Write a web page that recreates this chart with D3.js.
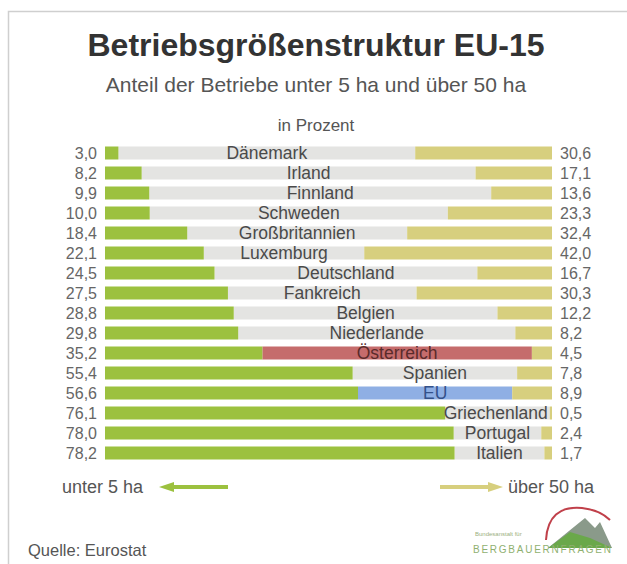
<!DOCTYPE html>
<html><head><meta charset="utf-8">
<script src="https://cdn.jsdelivr.net/npm/d3@7"></script>
<style>
html,body{margin:0;padding:0;background:#fff;}
svg{display:block;font-family:"Liberation Sans",Arial,Helvetica,sans-serif;}
</style></head>
<body>
<svg id="chart" width="627" height="564"></svg>
<script>
const countries = ["Dänemark","Irland","Finnland","Schweden","Großbritannien","Luxemburg","Deutschland","Fankreich","Belgien","Niederlande","Österreich","Spanien","EU","Griechenland","Portugal","Italien"];
const under5 = [3.0,8.2,9.9,10.0,18.4,22.1,24.5,27.5,28.8,29.8,35.2,55.4,56.6,76.1,78.0,78.2];
const over50 = [30.6,17.1,13.6,23.3,32.4,42.0,16.7,30.3,12.2,8.2,4.5,7.8,8.9,0.5,2.4,1.7];
const highlight = {"Österreich":"at","EU":"eu"};

const title = "Betriebsgrößenstruktur EU-15";
const subtitle = "Anteil der Betriebe unter 5 ha und über 50 ha";
const unitLabel = "in Prozent";
const legendLeft = "unter 5 ha";
const legendRight = "über 50 ha";
const source = "Quelle: Eurostat";

const rows = countries.map((c,i)=>({c, u:under5[i], o:over50[i]}));
const svg = d3.select("#chart");

const colGreen = "#9cc13f", colYellow = "#d7cf7e", colGray = "#e4e4e2",
      colRed = "#c56c6c", colBlue = "#8fafe4";

// frame
svg.append("path").attr("d","M8.5,564 V11.5 H627").attr("fill","none").attr("stroke","#cfcfcf").attr("stroke-width",1.5);

const x = d3.scaleLinear().domain([0,100]).range([105,552]);
const y = d3.scaleBand().domain(countries).range([143,463]).paddingInner(0.35).paddingOuter(0.175);

svg.append("text").attr("x",316).attr("y",56).attr("text-anchor","middle")
  .attr("font-size",32).attr("font-weight","bold").attr("fill","#333").text(title);
svg.append("text").attr("x",316).attr("y",92).attr("text-anchor","middle")
  .attr("font-size",21).attr("fill","#555").text(subtitle);
svg.append("text").attr("x",316).attr("y",131).attr("text-anchor","middle")
  .attr("font-size",17).attr("fill","#555").text(unitLabel);

const g = svg.append("g");
const row = g.selectAll("g.row").data(rows).join("g").attr("class","row")
  .attr("transform",d=>`translate(0,${y(d.c)})`);
const bh = y.bandwidth();

row.append("rect").attr("x",d=>x(d.u)).attr("width",d=>x(100-d.o)-x(d.u)).attr("height",bh)
  .attr("fill",d=>highlight[d.c]==="at"?colRed:highlight[d.c]==="eu"?colBlue:colGray);
row.append("rect").attr("x",x(0)).attr("width",d=>x(d.u)-x(0)).attr("height",bh).attr("fill",colGreen);
row.append("rect").attr("x",d=>x(100-d.o)).attr("width",d=>x(100)-x(100-d.o)).attr("height",bh).attr("fill",colYellow);

const fmt = v => v.toFixed(1).replace(".",",");
row.append("text").attr("x",97).attr("y",bh/2).attr("dy","0.36em").attr("text-anchor","end")
  .attr("font-size",16).attr("fill","#666").text(d=>fmt(d.u));
row.append("text").attr("x",560).attr("y",bh/2).attr("dy","0.36em").attr("text-anchor","start")
  .attr("font-size",16).attr("fill","#666").text(d=>fmt(d.o));

const lab = row.append("text").attr("y",bh/2).attr("dy","0.36em").attr("text-anchor","middle")
  .attr("font-size",17.5).attr("fill",d=>highlight[d.c]==="at"?"#5a2b2b":highlight[d.c]==="eu"?"#34518a":"#4a4a4a")
  .text(d=>d.c);
lab.each(function(d){
  const w = this.getComputedTextLength();
  const a = x(d.u), b = x(100-d.o);
  let cx = (a+b)/2;
  if (cx + w/2 > b - 2) cx = b - 2 - w/2;
  d3.select(this).attr("x",cx);
});

// legend
const ly = 487;
svg.append("text").attr("x",62).attr("y",ly).attr("dy","0.36em").attr("font-size",18).attr("fill","#555").text(legendLeft);
svg.append("text").attr("x",508).attr("y",ly).attr("dy","0.36em").attr("font-size",18).attr("fill","#555").text(legendRight);
svg.append("line").attr("x1",172).attr("x2",228).attr("y1",ly).attr("y2",ly).attr("stroke",colGreen).attr("stroke-width",4);
svg.append("path").attr("d",`M159,${ly} L174,${ly-5} L174,${ly+5} Z`).attr("fill",colGreen);
svg.append("line").attr("x1",440).attr("x2",490).attr("y1",ly).attr("y2",ly).attr("stroke",colYellow).attr("stroke-width",4);
svg.append("path").attr("d",`M503,${ly} L488,${ly-5} L488,${ly+5} Z`).attr("fill",colYellow);

svg.append("text").attr("x",28).attr("y",556).attr("font-size",16.5).attr("fill","#555").text(source);

// logo
const lg = svg.append("g");
lg.append("path").attr("d","M546,540 Q548,505 582,508 Q600,510 610,520").attr("fill","none").attr("stroke","#c0404a").attr("stroke-width",2);
lg.append("path").attr("d","M548,548 L585,518 L595,528 L600,522 L612,548 Z").attr("fill","#8a9a8a");
lg.append("path").attr("d","M548,548 L570,532 L590,538 L612,548 Z").attr("fill","#6aa84a");
lg.append("text").attr("x",475).attr("y",536).attr("font-size",6).attr("fill","#9ab080").text("Bundesanstalt für");
lg.append("text").attr("x",473).attr("y",553).attr("font-size",10).attr("fill","#8fb070").attr("textLength",138).text("BERGBAUERNFRAGEN");
</script>
</body></html>
